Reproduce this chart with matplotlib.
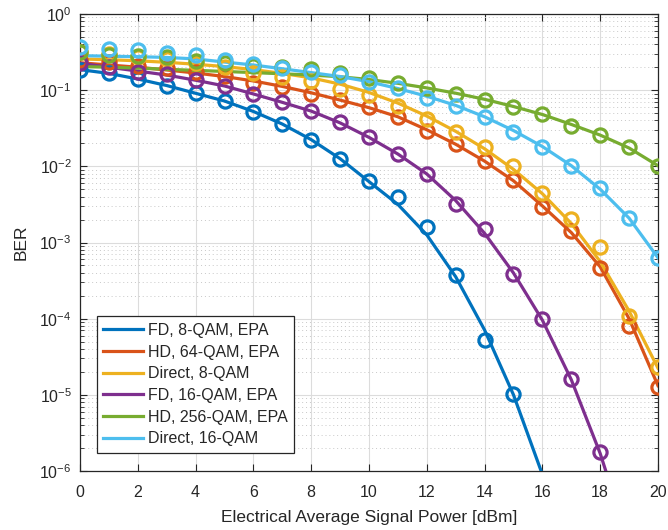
import matplotlib
matplotlib.use("Agg")
import matplotlib.pyplot as plt
from matplotlib.ticker import LogLocator, MultipleLocator, NullFormatter, FixedLocator

plt.rcParams['font.family'] = ['Liberation Sans', 'DejaVu Sans']
plt.rcParams['mathtext.default'] = 'regular'

power_db = list(range(0, 21))
y_ticks = [1e-6, 1e-5, 1e-4, 1e-3, 1e-2, 1e-1, 1e0]

labels = ["FD, 8-QAM, EPA", "HD, 64-QAM, EPA", "Direct, 8-QAM",
          "FD, 16-QAM, EPA", "HD, 256-QAM, EPA", "Direct, 16-QAM"]
colors = ["#0072BD", "#D95319", "#EDB120", "#7E2F8E", "#77AC30", "#4DBEEE"]

# theoretical curves (lines)
fd8_line = [0.186, 0.166, 0.14, 0.115, 0.091, 0.072, 0.0525, 0.0359, 0.0224, 0.0126,
            0.0063, 0.00316, 0.00126, 3.55e-4, 7.1e-5, 1.0e-5, 9.0e-7]
hd64_line = [0.229, 0.214, 0.2, 0.184, 0.168, 0.151, 0.132, 0.112, 0.0923, 0.0741,
             0.0589, 0.0447, 0.0302, 0.0195, 0.0117, 0.00646, 0.00302, 0.00135,
             4.79e-4, 1.0e-4, 1.32e-5]
dir8_line = [0.257, 0.251, 0.243, 0.232, 0.219, 0.204, 0.186, 0.166, 0.145, 0.12,
             0.0933, 0.0676, 0.0457, 0.0288, 0.017, 0.00912, 0.00437, 0.00178,
             5.62e-4, 1.26e-4, 2.24e-5]
fd16_line = [0.225, 0.2, 0.178, 0.158, 0.135, 0.1135, 0.0891, 0.0692, 0.0531, 0.0372,
             0.024, 0.0145, 0.00794, 0.00355, 0.00132, 3.98e-4, 9.55e-5, 1.58e-5,
             1.7e-6, 1.12e-7]
hd256_line = [0.204, 0.2, 0.195, 0.188, 0.182, 0.176, 0.17, 0.164, 0.158, 0.15,
              0.138, 0.123, 0.107, 0.0912, 0.0759, 0.061, 0.0479, 0.0355, 0.0257,
              0.0174, 0.0102]
dir16_line = [0.284, 0.279, 0.275, 0.269, 0.257, 0.234, 0.214, 0.191, 0.17, 0.151,
              0.129, 0.105, 0.0832, 0.0631, 0.0447, 0.0295, 0.0182, 0.0102, 0.00501,
              0.00209, 6.3e-4]

# simulated points (markers)
fd8_sim = [0.186, 0.167, 0.139, 0.115, 0.091, 0.0721, 0.0518, 0.0356, 0.0222, 0.0126,
           0.00646, 0.00393, 0.00158, 3.7e-4, 5.25e-5, 1.02e-5]
hd64_sim = [0.251, 0.237, 0.209, 0.194, 0.175, 0.155, 0.126, 0.11, 0.0897, 0.0733,
            0.0596, 0.0449, 0.0292, 0.0197, 0.0119, 0.00664, 0.0029, 0.00142,
            4.69e-4, 8.05e-5, 1.26e-5]
dir8_sim = [0.316, 0.295, 0.275, 0.257, 0.229, 0.2, 0.167, 0.148, 0.133, 0.104,
            0.0865, 0.0621, 0.0419, 0.0286, 0.0178, 0.0102, 0.0044, 0.00202,
            8.7e-4, 1.09e-4, 2.29e-5]
fd16_sim = [0.229, 0.204, 0.174, 0.162, 0.138, 0.115, 0.0891, 0.0692, 0.0531, 0.038,
            0.024, 0.0146, 0.0079, 0.00318, 0.00151, 3.84e-4, 9.8e-5, 1.6e-5, 1.75e-6]
hd256_sim = [0.321, 0.29, 0.284, 0.27, 0.244, 0.224, 0.209, 0.2, 0.188, 0.167,
             0.145, 0.123, 0.106, 0.0891, 0.0743, 0.0596, 0.0482, 0.0339, 0.0258,
             0.0182, 0.0101]
dir16_sim = [0.372, 0.347, 0.335, 0.305, 0.288, 0.251, 0.221, 0.194, 0.172, 0.158,
             0.129, 0.108, 0.0783, 0.0621, 0.0449, 0.028, 0.0182, 0.0102, 0.00515,
             0.00209, 6.22e-4]

lines = [fd8_line, hd64_line, dir8_line, fd16_line, hd256_line, dir16_line]
sims = [fd8_sim, hd64_sim, dir8_sim, fd16_sim, hd256_sim, dir16_sim]

fig = plt.figure(figsize=(6.68, 5.30), dpi=100)
ax = fig.add_axes([0.1198, 0.1113, 0.8652, 0.8623])

for vals, lab, c in zip(lines, labels, colors):
    ax.plot(power_db[:len(vals)], vals, color=c, lw=2.3, label=lab, zorder=3)
for vals, c in zip(sims, colors):
    ax.plot(power_db[:len(vals)], vals, linestyle='none', marker='o', ms=9.5,
            mfc='none', mec=c, mew=2.3, zorder=4)

ax.set_yscale('log')
ax.set_xlim(0, 20)
ax.set_ylim(1e-6, 1)
ax.xaxis.set_major_locator(MultipleLocator(2))
ax.yaxis.set_major_locator(FixedLocator(y_ticks))
ax.yaxis.set_minor_locator(LogLocator(base=10, subs=range(2, 10), numticks=100))
ax.yaxis.set_minor_formatter(NullFormatter())

ax.grid(True, which='major', color='#dcdcdc', lw=0.8, zorder=0)
ax.grid(True, which='minor', axis='y', color='#c8c8c8', lw=0.7, linestyle=(0, (1, 3)), zorder=0)
ax.set_axisbelow(True)

tc = '#262626'
ax.tick_params(which='both', direction='in', top=True, right=True, colors=tc,
               labelsize=11.5)
ax.tick_params(which='major', length=5, width=0.8)
ax.tick_params(which='minor', length=3, width=0.6)
ax.tick_params(axis='x', which='major', pad=10)
ax.tick_params(axis='y', which='major', pad=6)
for s in ax.spines.values():
    s.set_color(tc)
    s.set_linewidth(0.9)

ax.set_xlabel('Electrical Average Signal Power [dBm]', fontsize=12.5, color=tc,
              labelpad=7)
ax.set_ylabel('BER', fontsize=12.5, color=tc, labelpad=8)

leg = ax.legend(loc='lower left', bbox_to_anchor=(0.029, 0.04), fontsize=11.5,
                frameon=True, fancybox=False, handlelength=2.5, handletextpad=0.3,
                borderpad=0.4, labelspacing=0.42, borderaxespad=0)
leg.get_frame().set_edgecolor(tc)
leg.get_frame().set_linewidth(0.9)
leg.get_frame().set_alpha(1)
for t in leg.get_texts():
    t.set_color(tc)

fig.savefig('out.png', dpi=100)
